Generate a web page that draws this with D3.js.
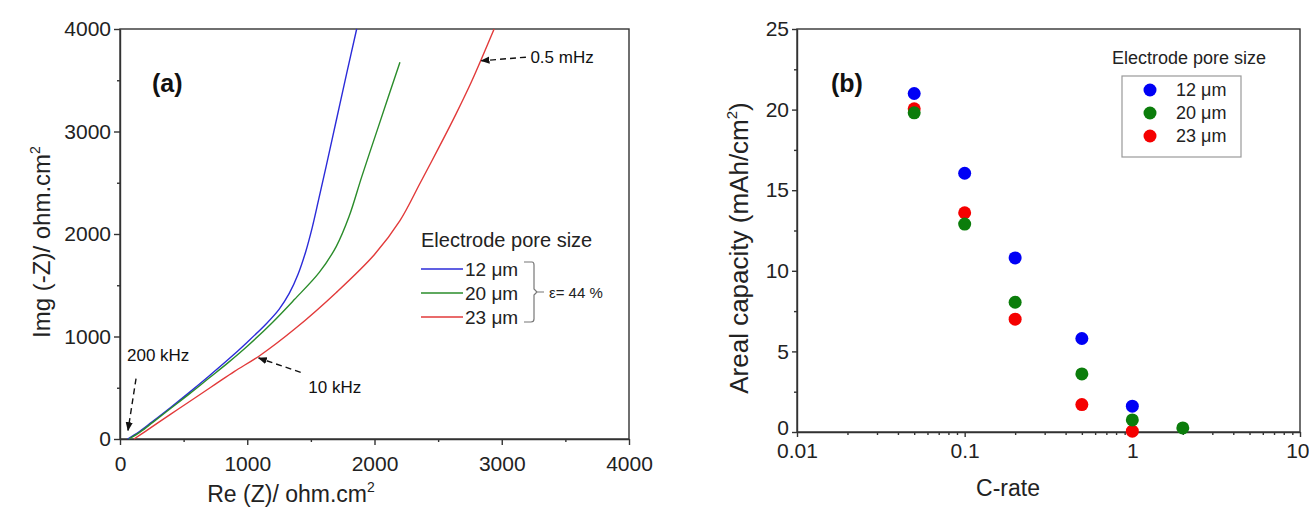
<!DOCTYPE html>
<html>
<head>
<meta charset="utf-8">
<script src="https://cdn.jsdelivr.net/npm/d3@7"></script>
<style>
  html, body { margin: 0; padding: 0; background: #fff; }
  svg { display: block; font-family: "Liberation Sans", Arial, sans-serif; }
  .axis path, .axis line { stroke: #333; stroke-width: 1.4; }
  .axis text { fill: #222; }
</style>
</head>
<body>
<svg id="chart" width="1309" height="510"></svg>
<script>
// ---------- Panel (a): Nyquist plots, [Re(Z), -Im(Z)] in ohm.cm2 ----------
const nyquist12 = [[60,0],[150,70],[250,165],[400,310],[550,460],[700,615],[850,775],[1000,945],[1150,1125],[1250,1265],[1330,1420],[1400,1610],[1460,1830],[1510,2060],[1560,2330],[1620,2660],[1700,3110],[1780,3560],[1860,4000]];
const nyquist20 = [[70,0],[160,70],[260,165],[400,300],[550,445],[700,595],[850,745],[1000,905],[1200,1140],[1370,1360],[1566,1625],[1700,1880],[1800,2170],[1900,2560],[2030,3045],[2120,3380],[2200,3676]];
const nyquist23 = [[110,0],[200,75],[300,160],[450,285],[600,410],[750,535],[900,660],[1100,815],[1370,1070],[1700,1430],[2000,1800],[2200,2130],[2360,2500],[2500,2830],[2640,3170],[2760,3480],[2940,4000]];
const poreLabels = ["12 μm", "20 μm", "23 μm"];
const axisTicksA = [0, 1000, 2000, 3000, 4000];
const minorTicksA = [500, 1500, 2500, 3500];

// ---------- Panel (b): areal capacity vs C-rate ----------
const cRates = [0.05, 0.1, 0.2, 0.5, 1, 2];
const capacity12 = [21.0, 16.05, 10.8, 5.8, 1.6, null];
const capacity20 = [19.8, 12.9, 8.05, 3.6, 0.75, 0.25];
const capacity23 = [20.05, 13.6, 7.0, 1.7, 0.05, null];
const axisTicksBx = [0.01, 0.1, 1, 10];
const axisTicksBy = [0, 5, 10, 15, 20, 25];

const lineColors = ["#2b2bd9", "#2a8c2a", "#e23a3a"];
const dotColors = ["#0000f5", "#0b7d0b", "#f50000"];

const svg = d3.select("#chart");

// arrow head marker
svg.append("defs").append("marker")
  .attr("id", "head").attr("viewBox", "0 0 10 10")
  .attr("refX", 9).attr("refY", 5)
  .attr("markerWidth", 9).attr("markerHeight", 9)
  .attr("markerUnits", "userSpaceOnUse")
  .attr("orient", "auto")
  .append("path").attr("d", "M0,1 L10,5 L0,9 Z").attr("fill", "#111");

function frame(g, x0, y0, x1, y1) {
  g.append("rect").attr("x", x0).attr("y", y0).attr("width", x1 - x0).attr("height", y1 - y0)
    .attr("fill", "none").attr("stroke", "#333").attr("stroke-width", 1.4);
}

// ================= Panel (a) =================
const A = { left: 120, right: 629, top: 29, bottom: 439 };
const xa = d3.scaleLinear().domain([0, 4000]).range([A.left, A.right]);
const ya = d3.scaleLinear().domain([0, 4000]).range([A.bottom, A.top]);
const ga = svg.append("g");

ga.append("g").attr("class", "axis").attr("transform", `translate(0,${A.bottom})`)
  .call(d3.axisBottom(xa).tickValues(axisTicksA).tickFormat(d3.format("d")).tickSize(6).tickSizeOuter(0).tickPadding(11))
  .call(g => g.selectAll("text").attr("font-size", 21));
ga.append("g").attr("class", "axis").attr("transform", `translate(0,${A.bottom})`)
  .call(d3.axisBottom(xa).tickValues(minorTicksA).tickFormat("").tickSize(3).tickSizeOuter(0))
  .call(g => g.select(".domain").remove());
ga.append("g").attr("class", "axis").attr("transform", `translate(${A.left},0)`)
  .call(d3.axisLeft(ya).tickValues(axisTicksA).tickFormat(d3.format("d")).tickSize(6).tickSizeOuter(0).tickPadding(3))
  .call(g => g.selectAll("text").attr("font-size", 21));
ga.append("g").attr("class", "axis").attr("transform", `translate(${A.left},0)`)
  .call(d3.axisLeft(ya).tickValues(minorTicksA).tickFormat("").tickSize(3).tickSizeOuter(0))
  .call(g => g.select(".domain").remove());
frame(ga, A.left, A.top, A.right, A.bottom);

const lineA = d3.line().x(d => xa(d[0])).y(d => ya(d[1])).curve(d3.curveCatmullRom.alpha(0.5));
[nyquist12, nyquist20, nyquist23].forEach((s, i) => {
  ga.append("path").datum(s).attr("d", lineA)
    .attr("fill", "none").attr("stroke", lineColors[i]).attr("stroke-width", 1.4);
});

ga.append("text").attr("x", 152).attr("y", 92).attr("font-size", 25).attr("font-weight", "bold")
  .attr("fill", "#111").text("(a)");

// frequency annotations (data coordinates)
const annA = [
  { label: "200 kHz", tx: 55, ty: 760, from: [126, 590], to: [63, 85] },
  { label: "10 kHz", tx: 1480, ty: 445, from: [1420, 650], to: [1090, 790] },
  { label: "0.5 mHz", tx: 3225, ty: 3668, from: [3190, 3725], to: [2840, 3690] }
];
annA.forEach(a => {
  ga.append("line")
    .attr("x1", xa(a.from[0])).attr("y1", ya(a.from[1]))
    .attr("x2", xa(a.to[0])).attr("y2", ya(a.to[1]))
    .attr("stroke", "#111").attr("stroke-width", 1.4).attr("stroke-dasharray", "6,4")
    .attr("marker-end", "url(#head)");
  ga.append("text").attr("x", xa(a.tx)).attr("y", ya(a.ty)).attr("font-size", 17)
    .attr("fill", "#111").text(a.label);
});

// legend (a)
const legA = ga.append("g");
legA.append("text").attr("x", 421).attr("y", 247).attr("font-size", 20).attr("fill", "#222").text("Electrode pore size");
const legAy = [269, 293, 317];
poreLabels.forEach((lab, i) => {
  legA.append("line").attr("x1", 421).attr("x2", 463).attr("y1", legAy[i]).attr("y2", legAy[i])
    .attr("stroke", lineColors[i]).attr("stroke-width", 1.6);
  legA.append("text").attr("x", 465).attr("y", legAy[i] + 7).attr("font-size", 19).attr("fill", "#222").text(lab);
});
legA.append("path")
  .attr("d", "M524,262 L532,262 Q534,262 534,265 L534,289 L537,292 L534,295 L534,319 Q534,322 531,322 L524,322 M537,292 L544,292")
  .attr("fill", "none").attr("stroke", "#777").attr("stroke-width", 1.2);
legA.append("text").attr("x", 549).attr("y", 298).attr("font-size", 15).attr("fill", "#222").text("ε= 44 %");

// axis titles (a)
const yTitleA = ga.append("text").attr("transform", "translate(50,242) rotate(-90)")
  .attr("text-anchor", "middle").attr("font-size", 24).attr("fill", "#222");
yTitleA.append("tspan").text("Img (-Z)/ ohm.cm");
yTitleA.append("tspan").attr("font-size", 14).attr("dy", -10).text("2");
const xTitleA = ga.append("text").attr("x", 291).attr("y", 502)
  .attr("text-anchor", "middle").attr("font-size", 23).attr("fill", "#222");
xTitleA.append("tspan").text("Re (Z)/ ohm.cm");
xTitleA.append("tspan").attr("font-size", 14).attr("dy", -10).text("2");

// ================= Panel (b) =================
const B = { left: 797, right: 1300, top: 29, bottom: 432 };
const xb = d3.scaleLog().domain([0.01, 10]).range([B.left, B.right]);
const yb = d3.scaleLinear().domain([0, 25]).range([B.bottom, B.top]);
const gb = svg.append("g");

const minorLog = [];
[0.01, 0.1, 1].forEach(dec => { for (let k = 2; k <= 9; k++) minorLog.push(+(dec * k).toPrecision(3)); });

gb.append("g").attr("class", "axis").attr("transform", `translate(0,${B.bottom})`)
  .call(d3.axisBottom(xb).tickValues(axisTicksBx).tickFormat(d => String(d)).tickSize(5).tickSizeOuter(0).tickPadding(6))
  .call(g => g.selectAll("text").attr("font-size", 21))
  .call(g => g.selectAll(".tick").filter(d => d === 10).select("text").attr("text-anchor", "end").attr("x", 9));
gb.append("g").attr("class", "axis").attr("transform", `translate(0,${B.bottom})`)
  .call(d3.axisBottom(xb).tickValues(minorLog).tickFormat("").tickSize(3).tickSizeOuter(0))
  .call(g => g.select(".domain").remove());
gb.append("g").attr("class", "axis").attr("transform", `translate(${B.left},0)`)
  .call(d3.axisLeft(yb).tickValues(axisTicksBy).tickSize(5).tickSizeOuter(0).tickPadding(3))
  .call(g => g.selectAll("text").attr("font-size", 21))
  .call(g => g.selectAll(".tick").filter(d => d === 0).select("text").attr("dy", "0.1em"));
gb.append("g").attr("class", "axis").attr("transform", `translate(${B.left},0)`)
  .call(d3.axisLeft(yb).tickValues([2.5, 7.5, 12.5, 17.5, 22.5]).tickFormat("").tickSize(3).tickSizeOuter(0))
  .call(g => g.select(".domain").remove());
frame(gb, B.left, B.top, B.right, B.bottom);

// draw order: blue, red, green (green sits on top of red where they overlap)
const seriesB = [
  { vals: capacity12, color: dotColors[0] },
  { vals: capacity23, color: dotColors[2] },
  { vals: capacity20, color: dotColors[1] }
];
seriesB.forEach(s => {
  gb.append("g").selectAll("circle")
    .data(cRates.map((c, i) => [c, s.vals[i]]).filter(d => d[1] !== null))
    .join("circle")
    .attr("cx", d => xb(d[0])).attr("cy", d => yb(d[1])).attr("r", 6.5)
    .attr("fill", s.color);
});

gb.append("text").attr("x", 831).attr("y", 92).attr("font-size", 25).attr("font-weight", "bold")
  .attr("fill", "#111").text("(b)");

// legend (b)
const legB = gb.append("g");
legB.append("text").attr("x", 1189).attr("y", 64).attr("text-anchor", "middle").attr("font-size", 18)
  .attr("fill", "#222").text("Electrode pore size");
legB.append("rect").attr("x", 1122).attr("y", 76).attr("width", 119).attr("height", 81)
  .attr("fill", "#fff").attr("stroke", "#999").attr("stroke-width", 1.2);
const legBy = [90, 113, 136];
poreLabels.forEach((lab, i) => {
  legB.append("circle").attr("cx", 1150).attr("cy", legBy[i]).attr("r", 6.5).attr("fill", dotColors[i]);
  legB.append("text").attr("x", 1176).attr("y", legBy[i] + 6).attr("font-size", 18).attr("fill", "#222").text(lab);
});

// axis titles (b)
const yTitleB = gb.append("text").attr("transform", "translate(748,248) rotate(-90)")
  .attr("text-anchor", "middle").attr("font-size", 26).attr("fill", "#222");
yTitleB.append("tspan").text("Areal capacity (mAh/cm");
yTitleB.append("tspan").attr("font-size", 15).attr("dy", -11).text("2");
yTitleB.append("tspan").attr("dy", 11).text(")");
gb.append("text").attr("x", 1008).attr("y", 496).attr("text-anchor", "middle").attr("font-size", 23)
  .attr("fill", "#222").text("C-rate");
</script>
</body>
</html>
